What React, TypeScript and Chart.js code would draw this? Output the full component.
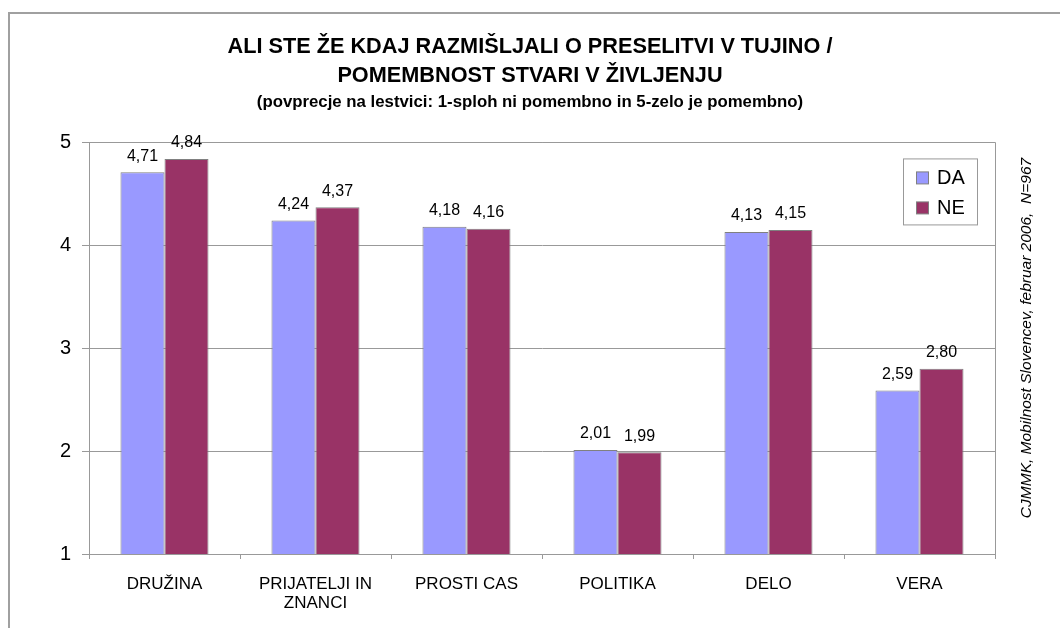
import React, { useEffect, useRef } from "react";
import { Chart, registerables } from "chart.js";

Chart.register(...registerables);

const categories: string[][] = [["DRUŽINA"], ["PRIJATELJI IN", "ZNANCI"], ["PROSTI CAS"], ["POLITIKA"], ["DELO"], ["VERA"]];
const seriesNames = ["DA", "NE"];
const daValues = [4.71, 4.24, 4.18, 2.01, 4.13, 2.59];
const neValues = [4.84, 4.37, 4.16, 1.99, 4.15, 2.8];
const yMin = 1;
const yMax = 5;
const titleLines = ["ALI STE ŽE KDAJ RAZMIŠLJALI O PRESELITVI V TUJINO /", "POMEMBNOST STVARI V ŽIVLJENJU"];
const subtitleText = "(povprecje na lestvici: 1-sploh ni pomembno in 5-zelo je pomembno)";
const sourceText = "CJMMK, Mobilnost Slovencev, februar 2006,  N=967";

const FONT = '"Liberation Sans", Arial, sans-serif';
const GRAY = "#999999";
const colors = ["#9999FF", "#993366"];

const decorPlugin = {
  id: "decor",
  beforeDatasetsDraw(chart: any) {
    const { ctx, chartArea } = chart;
    ctx.save();
    ctx.strokeStyle = GRAY;
    ctx.lineWidth = 1;
    ctx.beginPath();
    ctx.moveTo(chartArea.left, Math.round(chartArea.top) + 0.5);
    ctx.lineTo(Math.round(chartArea.right) + 0.5, Math.round(chartArea.top) + 0.5);
    ctx.lineTo(Math.round(chartArea.right) + 0.5, chartArea.bottom);
    ctx.stroke();
    ctx.restore();
  },
  afterDatasetsDraw(chart: any) {
    const { ctx } = chart;
    ctx.save();
    ctx.fillStyle = "#000";
    ctx.font = `16px ${FONT}`;
    ctx.textAlign = "center";
    ctx.textBaseline = "middle";
    chart.data.datasets.forEach((ds: any, di: number) => {
      const meta = chart.getDatasetMeta(di);
      meta.data.forEach((el: any, i: number) => {
        const v = ds.data[i] as number;
        ctx.fillText(v.toFixed(2).replace(".", ","), el.x, el.y - 16);
      });
    });
    ctx.restore();
  },
  afterDraw(chart: any) {
    const { ctx, chartArea } = chart;
    ctx.save();
    // outer frame
    ctx.strokeStyle = "#A0A0A0";
    ctx.lineWidth = 2;
    ctx.beginPath();
    ctx.moveTo(9, chart.height);
    ctx.lineTo(9, 13);
    ctx.lineTo(chart.width, 13);
    ctx.stroke();
    // legend box
    const bx = chartArea.right - 92;
    const by = chartArea.top + 16;
    ctx.lineWidth = 1;
    ctx.strokeStyle = GRAY;
    ctx.fillStyle = "#fff";
    ctx.fillRect(bx + 0.5, by + 0.5, 74, 66);
    ctx.strokeRect(bx + 0.5, by + 0.5, 74, 66);
    ctx.font = `20px ${FONT}`;
    ctx.textBaseline = "middle";
    ctx.textAlign = "left";
    seriesNames.forEach((name, i) => {
      const cy = by + 19 + i * 30;
      ctx.fillStyle = colors[i];
      ctx.fillRect(bx + 13.5, cy - 6 + 0.5, 12, 12);
      ctx.strokeStyle = "#808080";
      ctx.strokeRect(bx + 13.5, cy - 6 + 0.5, 12, 12);
      ctx.fillStyle = "#000";
      ctx.fillText(name, bx + 34, cy + 1);
    });
    // source text
    ctx.translate(1027, 338);
    ctx.rotate(-Math.PI / 2);
    ctx.font = `italic 15.5px ${FONT}`;
    ctx.textAlign = "center";
    ctx.textBaseline = "middle";
    ctx.fillStyle = "#000";
    ctx.fillText(sourceText, 0, 0);
    ctx.restore();
  },
};

export default function App() {
  const ref = useRef<HTMLCanvasElement>(null);
  useEffect(() => {
    if (!ref.current) return;
    const chart = new Chart(ref.current, {
      type: "bar",
      data: {
        labels: categories as any,
        datasets: [
          {
            label: seriesNames[0],
            data: daValues,
            backgroundColor: colors[0],
            borderColor: "#808080",
            borderWidth: 1,
            categoryPercentage: 0.583,
            barPercentage: 1,
          },
          {
            label: seriesNames[1],
            data: neValues,
            backgroundColor: colors[1],
            borderColor: "#808080",
            borderWidth: 1,
            categoryPercentage: 0.583,
            barPercentage: 1,
          },
        ],
      },
      options: {
        responsive: false,
        animation: false,
        layout: { padding: { left: 0, right: 0, top: 0, bottom: 0 } },
        plugins: {
          legend: { display: false },
          tooltip: { enabled: false },
          title: {
            display: true,
            text: titleLines,
            color: "#000",
            font: { family: FONT, size: 21.7, weight: "bold", lineHeight: 1.34 },
            padding: { top: 32.5, bottom: 0 },
          },
          subtitle: {
            display: true,
            text: subtitleText,
            color: "#000",
            font: { family: FONT, size: 16.8, weight: "bold", lineHeight: 1.2 },
            padding: { top: 1.6, bottom: 30 },
          },
        },
        scales: {
          x: {
            grid: { offset: true, drawOnChartArea: false, tickLength: 5, color: GRAY },
            border: { color: GRAY },
            ticks: {
              color: "#000",
              font: { family: FONT, size: 17, lineHeight: 1.12 },
              padding: 15.5,
              maxRotation: 0,
              autoSkip: false,
            },
            afterFit(scale: any) {
              scale.height = 74;
            },
          },
          y: {
            min: yMin,
            max: yMax,
            ticks: {
              stepSize: 1,
              color: "#000",
              font: { family: FONT, size: 20 },
              padding: 11,
            },
            grid: { color: GRAY, tickLength: 7 },
            border: { color: GRAY },
            afterFit(scale: any) {
              scale.width = 89;
            },
          },
          yR: {
            type: "linear",
            position: "right",
            display: true,
            grid: { display: false },
            ticks: { display: false },
            border: { display: false },
            afterFit(scale: any) {
              scale.width = 65;
            },
          },
        },
      } as any,
      plugins: [decorPlugin],
    });
    return () => chart.destroy();
  }, []);
  return (
    <div style={{ position: "fixed", left: 0, top: 0, width: 1060, height: 628, background: "#fff" }}>
      <canvas ref={ref} width={1060} height={628} />
    </div>
  );
}
